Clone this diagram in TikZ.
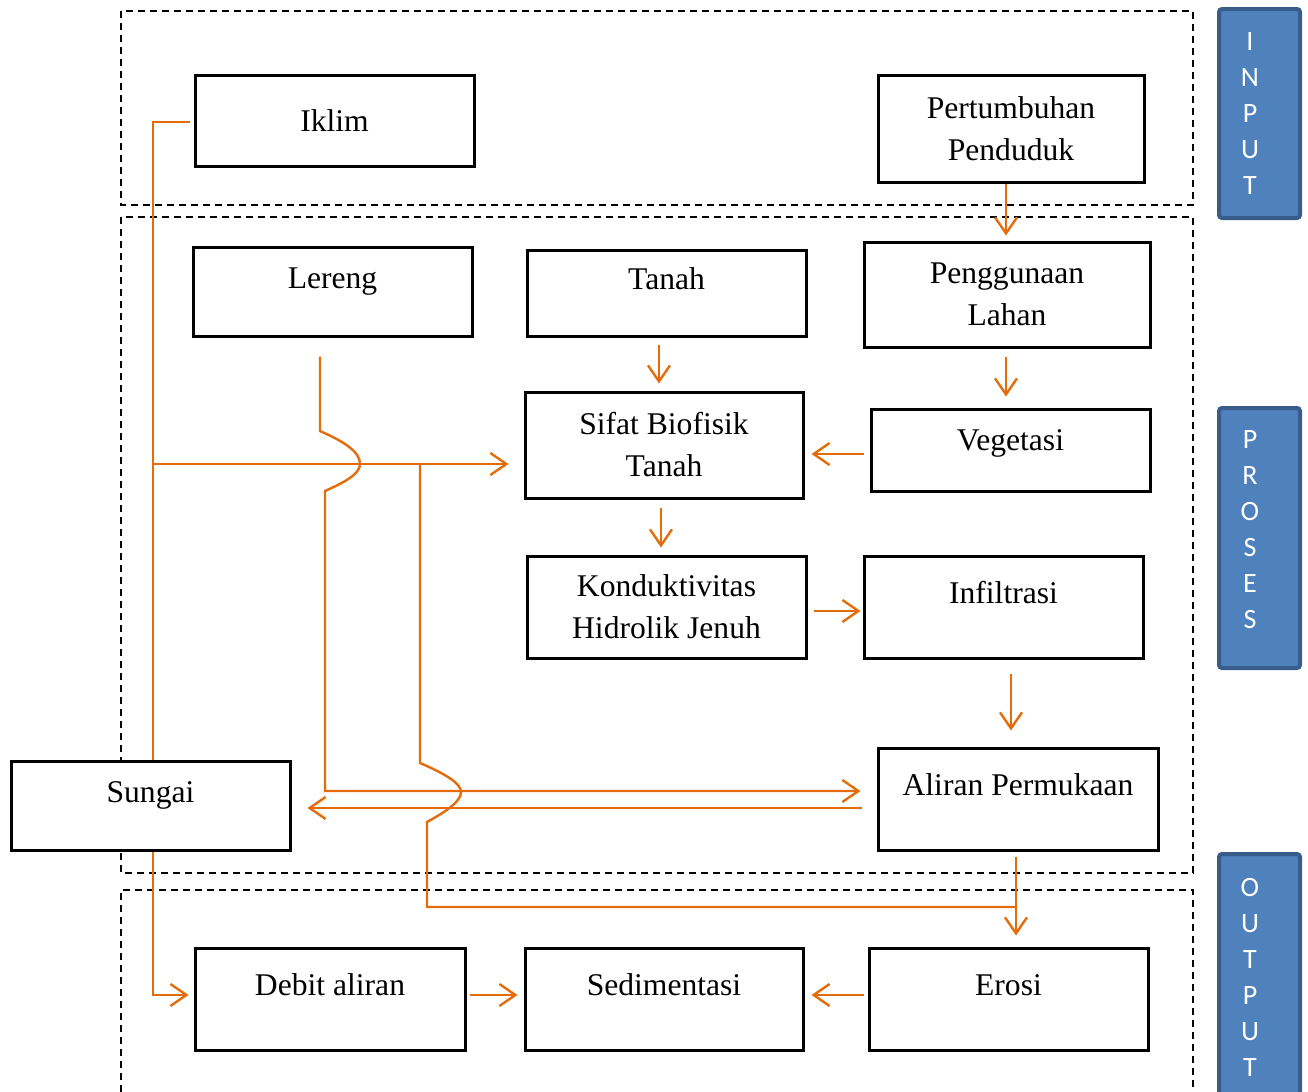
\documentclass[tikz,border=0pt]{standalone}
\usepackage{fontspec}
\setmainfont{Liberation Serif}
\newfontfamily\sidefont{Carlito}
\usetikzlibrary{arrows.meta}
\definecolor{jingga}{HTML}{E46C0A}
\definecolor{biru}{HTML}{4F81BD}
\definecolor{birutua}{HTML}{385D8A}

\begin{document}
\begin{tikzpicture}[x=0.5pt, y=-0.5pt, >={Straight Barb[length=8pt,width=11pt]},
	box/.style={draw, line width=1.5pt, fill=white, align=center, minimum width=139.5pt, minimum height=51pt, inner sep=2pt, font=\fontsize{15.8}{21}\selectfont},
	onerow/.style={text height=11pt, text depth=14.5pt},
	link/.style={->, jingga, line width=1.2pt},
	flow/.style={->, draw=jingga, line width=1.2pt},
	wire/.style={draw=jingga, line width=1.2pt},
	frame/.style={draw, line width=0.9pt, dash pattern=on 3.5pt off 2.5pt},
	side/.style={draw=birutua, fill=biru, line width=2pt, rounded corners=1.5pt, minimum width=40.5pt},
	sidetext/.style={text=white, align=center, inner sep=0pt, font=\sidefont\fontsize{14}{18}\selectfont}]

			\useasboundingbox (0,0) rectangle (1308,1092);

			\draw[frame] (121,11) rectangle (1193,205);
			\draw[frame] (121,217) rectangle (1193,873);
			\draw[frame] (121,1092) -- (121,890) -- (1193,890) -- (1193,1092);

			\node[side, minimum height=104.5pt] (input) at (1259.5,113.5) {};
			\node[side, minimum height=130pt] (proses) at (1259.5,538) {};
			\node[side, minimum height=123.5pt] (output) at (1259.5,977.5) {};
			\node[sidetext] (inputtext) at ([xshift=-4.75pt]input.center) {I\\N\\P\\U\\T};
			\node[sidetext] (prosestext) at ([xshift=-4.75pt, yshift=4pt]proses.center) {P\\R\\O\\S\\E\\S};
			\node[sidetext] (outputtext) at ([xshift=-4.75pt]output.center) {O\\U\\T\\P\\U\\T};

			\node[box, minimum height=45.5pt] (iklim) at (334.5,120.5) {Iklim};
			\node[box, minimum width=133pt, minimum height=53.5pt] (tumbuh) at (1011,128.5) {Pertumbuhan\\Penduduk};
			\node[box, onerow, minimum height=44.5pt] (lereng) at (332.5,291.5) {Lereng};
			\node[box, onerow, minimum height=43pt] (tanah) at (666.5,293) {Tanah};
			\node[box, minimum width=143pt, minimum height=52.5pt] (guna) at (1007,294.5) {Penggunaan\\Lahan};
			\node[box, minimum width=139pt, minimum height=53pt] (sifat) at (664,445) {Sifat Biofisik\\Tanah};
			\node[box, onerow, text depth=10.5pt, minimum height=41pt] (vegetasi) at (1010.5,450) {Vegetasi};
			\node[box] (konduk) at (666.5,607) {Konduktivitas\\Hidrolik Jenuh};
			\node[box, onerow] (infil) at (1003.5,607) {Infiltrasi};
			\node[box, onerow, minimum width=140pt] (aliran) at (1018,799) {Aliran Permukaan};
			\node[box, onerow, minimum height=44.5pt] (sungai) at (150.5,805.5) {Sungai};
			\node[box, onerow, minimum width=135pt] (debit) at (330,999) {Debit aliran};
			\node[box, onerow, minimum width=139pt] (sedimen) at (664,999) {Sedimentasi};
			\node[box, onerow] (erosi) at (1008.5,999) {Erosi};

			\coordinate (split) at (153,464);
			\coordinate (branch) at (420,464);
			\coordinate (join) at (1016,907);

			\path[link]
			([xshift=-2.5pt]tumbuh.south) edge ([xshift=-0.5pt, yshift=2.5pt]guna.north)
			([xshift=-3.75pt, yshift=-3.5pt]tanah.south) edge ([xshift=-2.5pt, yshift=3.5pt]sifat.north)
			([xshift=-0.5pt, yshift=-4pt]guna.south) edge ([xshift=-2.25pt, yshift=5.5pt]vegetasi.north)
			([xshift=-3pt, yshift=-2pt]vegetasi.west) edge ([xshift=3.5pt, yshift=-4.5pt]sifat.east)
			([xshift=-1.5pt, yshift=-4pt]sifat.south) edge ([xshift=-2.75pt, yshift=3.5pt]konduk.north)
			([xshift=3pt, yshift=-2pt]konduk.east) edge ([xshift=-1pt, yshift=-2pt]infil.west)
			([xshift=3.75pt, yshift=-7pt]infil.south) edge ([xshift=-3.5pt, yshift=8pt]aliran.north)
			([xshift=-1pt, yshift=-2.5pt]aliran.south) edge ([xshift=3.75pt, yshift=5.5pt]erosi.north)
			([xshift=1.5pt, yshift=2pt]debit.east) edge ([xshift=-3pt, yshift=2pt]sedimen.west)
			([xshift=-2pt, yshift=2pt]erosi.west) edge ([xshift=3.5pt, yshift=2pt]sedimen.east);

			\draw[wire] ([xshift=-2pt, yshift=-0.75pt]iklim.west) -| ([xshift=1.25pt]sungai.north);
			\draw[flow, shorten >=7.5pt] (split) -- (sifat.west |- split);
			\draw[wire] (branch) -- (420,763) .. controls (448,775) and (461,784) .. (461,792) .. controls (461,802) and (445,812) .. (427,822) |- (join);
			\draw[flow] ([xshift=-6.25pt, yshift=-9.5pt]lereng.south) -- (320,431) .. controls (345,442) and (360,452) .. (360,464) .. controls (360,474) and (345,482) .. (325,491) |- ([xshift=-8pt, yshift=4pt]aliran.west);
			\draw[flow] ([xshift=-7.5pt, yshift=-4.5pt]aliran.west) -- ([xshift=8pt, yshift=-1.25pt]sungai.east);
			\draw[flow] ([xshift=1.25pt]sungai.south) |- ([xshift=-2.5pt, yshift=2pt]debit.west);

			\end{tikzpicture}
\end{document}
